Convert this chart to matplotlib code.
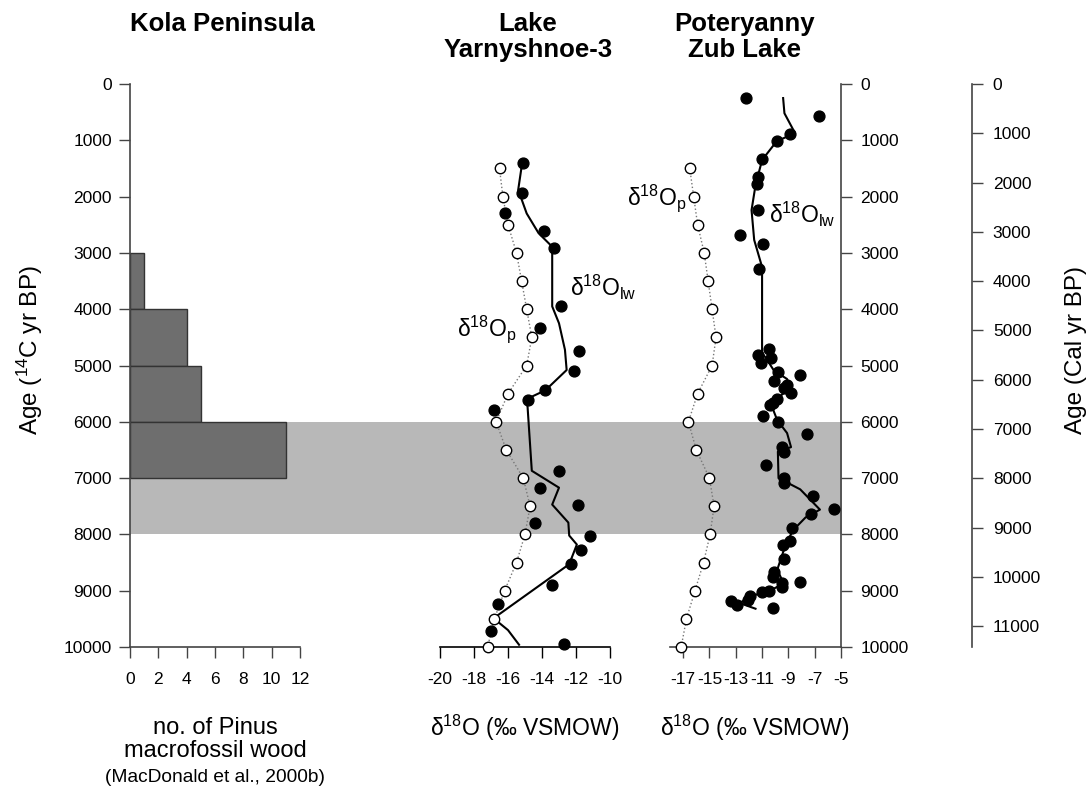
import matplotlib
matplotlib.use('Agg')
import matplotlib.pyplot as plt

plt.rcParams['font.family'] = ['Liberation Sans', 'DejaVu Sans']
plt.rcParams['mathtext.fontset'] = 'custom'
plt.rcParams['mathtext.rm'] = 'Liberation Sans'
plt.rcParams['mathtext.it'] = 'Liberation Sans:italic'
plt.rcParams['mathtext.bf'] = 'Liberation Sans:bold'
plt.rcParams['axes.unicode_minus'] = False

# Kola Peninsula: Pinus macrofossil wood counts per 1000-yr bin
pinus_bin_start = [3000, 4000, 5000, 6000]
pinus_count = [1, 4, 5, 11]

# precipitation d18O (open circles), same ages for both lakes
p_age = [1500, 2000, 2500, 3000, 3500, 4000, 4500, 5000, 5500,
         6000, 6500, 7000, 7500, 8000, 8500, 9000, 9500, 10000]
yar_p = [-16.5, -16.3, -16.0, -15.5, -15.2, -14.9, -14.6, -14.9, -16.0,
         -16.7, -16.1, -15.1, -14.7, -15.0, -15.5, -16.2, -16.8, -17.2]
pot_p = [-16.5, -16.2, -15.9, -15.4, -15.1, -14.8, -14.5, -14.8, -15.9,
         -16.6, -16.0, -15.0, -14.65, -14.95, -15.45, -16.1, -16.75, -17.15]

# Lake Yarnyshnoe-3 lake water d18O (filled dots)
yar_age = [1400, 1940, 2300, 2610, 2920, 3940, 4340, 4740, 5100, 5440, 5610, 5790,
           6870, 7170, 7470, 7790, 8020, 8270, 8530, 8890, 9240, 9720, 9950]
yar_lw = [-15.1, -15.2, -16.2, -13.9, -13.3, -12.9, -14.1, -11.8, -12.1, -13.8, -14.8, -16.8,
          -13.0, -14.1, -11.9, -14.4, -11.2, -11.7, -12.3, -13.4, -16.6, -17.0, -12.7]
# smoothed curve
yar_curve_age = [1470, 1880, 2300, 2650, 2890, 3950, 4250, 4720, 5080, 5440, 5610,
                 5730, 6870, 7170, 7470, 7790, 8020, 8180, 8530, 9490, 9700, 9960]
yar_curve = [-15.2, -15.4, -14.9, -14.2, -13.4, -13.4, -13.0, -12.65, -12.55, -13.8, -15.0,
             -14.85, -14.6, -13.0, -13.4, -12.45, -12.4, -11.95, -12.4, -16.85, -16.0, -15.35]

# Poteryanny Zub Lake lake water d18O (filled dots)
pot_age = [240, 570, 890, 1010, 1340, 1660, 1780, 2240, 2690, 2840,
           3290, 4700, 4810, 4860, 4960, 5110, 5170, 5270, 5350, 5400,
           5480, 5600, 5660, 5700, 5900, 6000, 6220, 6440, 6530, 6760,
           6990, 7090, 7320, 7550, 7640, 7880, 8110, 8190, 8430, 8660,
           8760, 8850, 8870, 8940, 9000, 9030, 9090, 9170, 9180, 9250, 9310]
pot_lw = [-12.2, -6.7, -8.9, -9.9, -11.0, -11.3, -11.4, -11.3, -12.7, -10.9,
          -11.2, -10.5, -11.3, -10.3, -11.1, -9.8, -8.1, -10.1, -9.1, -9.3,
          -8.8, -9.9, -10.2, -10.4, -10.9, -9.8, -7.6, -9.5, -9.35, -10.7,
          -9.3, -9.35, -7.1, -5.5, -7.3, -8.7, -8.9, -9.4, -9.3, -10.1,
          -10.2, -8.15, -9.45, -9.5, -10.5, -11.0, -11.9, -12.1, -13.4, -12.9, -10.2]
pot_curve_age = [250, 520, 870, 1020, 1350, 1800, 2240, 2770, 3250, 4780, 4870,
                 5090, 5240, 5400, 5600, 5700, 5970, 6200, 6450, 6530, 7000, 7200,
                 7560, 7700, 7940, 8280, 8630, 8870, 9000, 9100, 9220, 9320]
pot_curve = [-9.4, -9.3, -8.5, -9.9, -11.0, -11.5, -11.8, -11.6, -11.0, -11.0, -10.7,
             -10.1, -9.1, -8.9, -9.9, -10.3, -9.85, -9.1, -8.8, -9.8, -9.75, -8.1,
             -6.6, -7.7, -8.7, -9.35, -9.85, -9.35, -10.4, -11.9, -12.7, -11.5]

age_ticks = [0, 1000, 2000, 3000, 4000, 5000, 6000, 7000, 8000, 9000, 10000]
cal_ticks = [0, 1000, 2000, 3000, 4000, 5000, 6000, 7000, 8000, 9000, 10000, 11000]
band = (6000, 8000)

W, H = 1091, 787
TOP, BOT = 84, 647
fig = plt.figure(figsize=(W / 100, H / 100), dpi=100)
spine_col = '#444444'
tick_fs = 12.5


def add_px_axes(x0, x1):
    ax = fig.add_axes([x0 / W, 1 - BOT / H, (x1 - x0) / W, (BOT - TOP) / H])
    ax.patch.set_alpha(0)
    ax.set_ylim(10000, 0)
    for s in ax.spines.values():
        s.set_color(spine_col)
        s.set_linewidth(1.2)
    ax.tick_params(colors=spine_col, labelcolor='black', labelsize=tick_fs,
                   width=1, length=8)
    return ax


# grey band behind all panels
bg = fig.add_axes([130 / W, 1 - BOT / H, (842 - 130) / W, (BOT - TOP) / H])
bg.set_ylim(10000, 0)
bg.axhspan(band[0], band[1], color='#b8b8b8', lw=0)
bg.axis('off')

# Kola Peninsula
ax1 = add_px_axes(130, 300)
ax1.barh(pinus_bin_start, pinus_count, height=1000, align='edge',
         color='#6e6e6e', edgecolor='#333333', linewidth=1)
ax1.set_xlim(0, 12)
ax1.set_xticks([0, 2, 4, 6, 8, 10, 12])
ax1.set_yticks(age_ticks)
ax1.spines['top'].set_visible(False)
ax1.spines['right'].set_visible(False)
ax1.tick_params(axis='x', pad=10)
ax1.tick_params(axis='y', pad=5)


def draw_lake(ax, p_vals, dots_age, dots_val, c_age, c_val):
    ax.plot(p_vals, p_age, ls=':', color='#777777', lw=1, zorder=2)
    ax.plot(c_val, c_age, color='black', lw=1.5, zorder=3)
    ax.plot(dots_val, dots_age, 'o', color='black', ms=7.8, clip_on=False, zorder=4)
    ax.plot(p_vals, p_age, 'o', mfc='white', mec='black', mew=1, ms=7.5,
            clip_on=False, zorder=5)


# Lake Yarnyshnoe-3
ax2 = add_px_axes(440, 610)
draw_lake(ax2, yar_p, yar_age, yar_lw, yar_curve_age, yar_curve)
ax2.set_xlim(-20, -10)
ax2.set_xticks([-20, -18, -16, -14, -12, -10])
ax2.set_yticks([])
for s in ['top', 'right', 'left']:
    ax2.spines[s].set_visible(False)
ax2.spines['bottom'].set_color('black')
ax2.tick_params(axis='x', pad=10, colors='black')

# Poteryanny Zub Lake
ax3 = add_px_axes(670, 841)
draw_lake(ax3, pot_p, pot_age, pot_lw, pot_curve_age, pot_curve)
ax3.set_xlim(-18, -5)
ax3.set_xticks([-17, -15, -13, -11, -9, -7, -5])
ax3.yaxis.tick_right()
ax3.set_yticks(age_ticks)
for s in ['top', 'left']:
    ax3.spines[s].set_visible(False)
ax3.tick_params(axis='x', pad=10)
ax3.tick_params(axis='y', pad=6)

# calendar age axis
ax4 = add_px_axes(930, 972)
ax4.set_ylim(11420, 0)
ax4.yaxis.tick_right()
ax4.set_yticks(cal_ticks)
ax4.set_xticks([])
for s in ['top', 'left', 'bottom']:
    ax4.spines[s].set_visible(False)
ax4.tick_params(axis='y', pad=7)


def ftext(x, y, s, **kw):
    fig.text(x / W, 1 - y / H, s, **kw)


# titles
title_kw = dict(fontsize=18.5, fontweight='bold', ha='center', va='center')
ftext(222, 24, 'Kola Peninsula', **title_kw)
ftext(528, 24, 'Lake', **title_kw)
ftext(528, 50, 'Yarnyshnoe-3', **title_kw)
ftext(745, 24, 'Poteryanny', **title_kw)
ftext(745, 50, 'Zub Lake', **title_kw)

# axis labels
ftext(30, 350, 'Age ($\\mathregular{^{14}}$C yr BP)', fontsize=17.5, rotation=90,
      ha='center', va='center')
ftext(1076, 350, 'Age (Cal yr BP)', fontsize=17.5, rotation=90, ha='center', va='center')
ftext(215, 728, 'no. of Pinus', fontsize=17, ha='center', va='center')
ftext(215, 751, 'macrofossil wood', fontsize=17, ha='center', va='center')
ftext(215, 777, '(MacDonald et al., 2000b)', fontsize=13.8, ha='center', va='center')
d18o_label = '$\\mathregular{δ^{18}}$O (‰ VSMOW)'
ftext(525, 728, d18o_label, fontsize=16.5, ha='center', va='center')
ftext(755, 728, d18o_label, fontsize=16.5, ha='center', va='center')

# series annotations
lw_lbl = '$\\mathregular{δ^{18}O_{lw}}$'
p_lbl = '$\\mathregular{δ^{18}O_{p}}$'
ftext(570, 287, lw_lbl, fontsize=16.5, ha='left', va='center')
ftext(457, 329, p_lbl, fontsize=16.5, ha='left', va='center')
ftext(627, 198, p_lbl, fontsize=16.5, ha='left', va='center')
ftext(769, 214, lw_lbl, fontsize=16.5, ha='left', va='center')

fig.savefig('out.png', dpi=100)
